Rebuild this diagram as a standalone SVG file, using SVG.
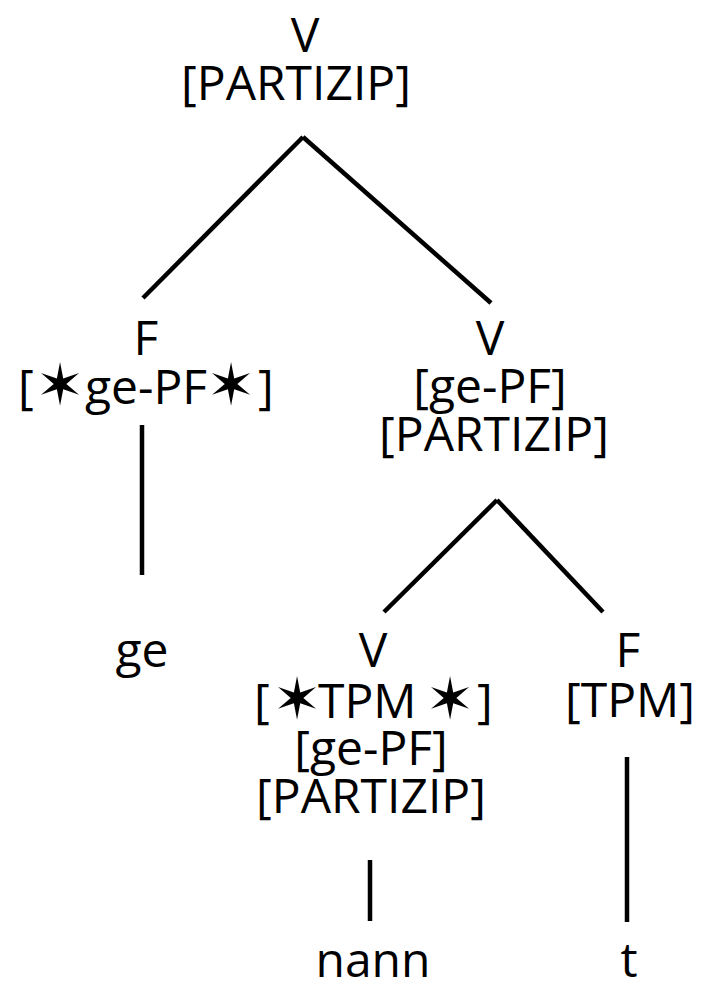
<svg xmlns="http://www.w3.org/2000/svg" width="712" height="986" viewBox="0 0 712 986">
<style>
text{font-family:"Open Sans","DejaVu Sans",sans-serif;font-size:48px;fill:#000;text-anchor:middle}
text.l{text-anchor:start}
text.s{font-family:"DejaVu Sans",sans-serif;font-size:58px}
.e{stroke:#000;stroke-width:4.5;fill:none}
</style>
<rect width="712" height="986" fill="#fff"/>
<g id="connectors">
<line class="e" x1="303" y1="137" x2="143" y2="298"/>
<line class="e" x1="303" y1="137" x2="491" y2="303"/>
<line class="e" x1="142" y1="425" x2="142" y2="575"/>
<line class="e" x1="497" y1="500" x2="384" y2="612"/>
<line class="e" x1="497" y1="500" x2="603" y2="612"/>
<line class="e" x1="370" y1="860" x2="370" y2="921"/>
<line class="e" x1="627" y1="757" x2="627" y2="922"/>
</g>
<g id="n_root"><text x="305" y="52">V</text><text x="296" y="100">[PARTIZIP]</text></g>
<g id="n_F1"><text x="146" y="355">F</text>
<text class="l" x="18" y="404">[</text><text class="s" x="60" y="405">✶</text><text class="l" x="85" y="404">ge-PF</text><text class="s" x="231" y="405">✶</text><text class="l" x="258" y="404">]</text></g>
<g id="n_V2"><text x="490" y="355">V</text><text x="490" y="403">[ge-PF]</text><text x="494" y="451">[PARTIZIP]</text></g>
<g id="n_ge"><text x="142" y="667">ge</text></g>
<g id="n_V3"><text x="373" y="667">V</text>
<text class="l" x="254" y="718">[</text><text class="s" x="297" y="719">✶</text><text class="l" x="318" y="718">TPM</text><text class="s" x="450" y="719">✶</text><text class="l" x="477" y="718">]</text>
<text x="371" y="765">[ge-PF]</text><text x="371" y="813">[PARTIZIP]</text></g>
<g id="n_F4"><text x="628" y="667">F</text><text x="630" y="717">[TPM]</text></g>
<g id="n_nann"><text x="373" y="977">nann</text></g>
<g id="n_t"><text x="629" y="977">t</text></g>
</svg>
